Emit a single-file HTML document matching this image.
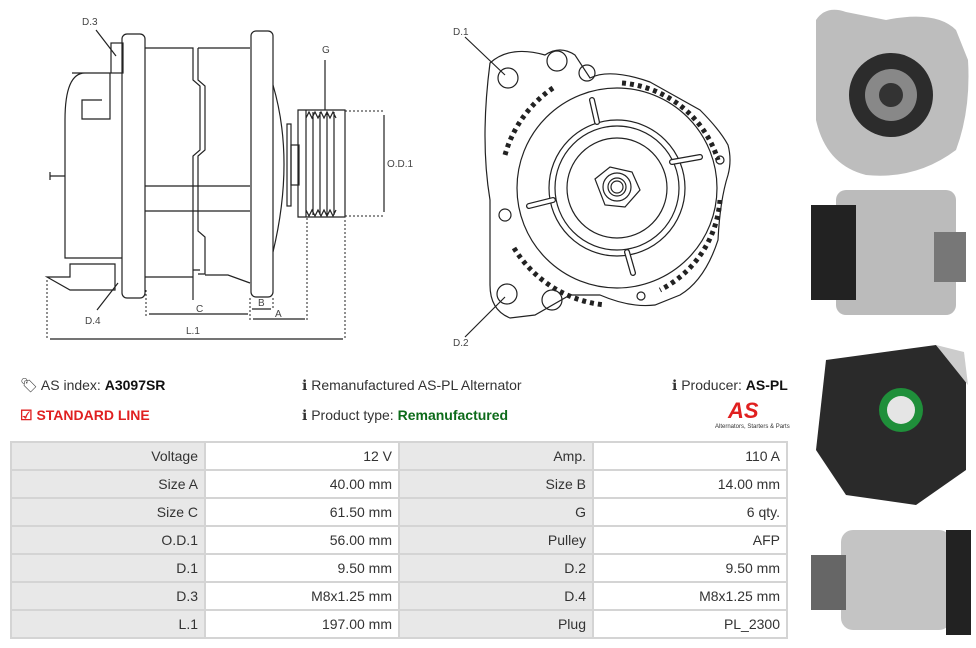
<!DOCTYPE html>
<html><head><meta charset="utf-8"><style>
body{margin:0;width:976px;height:648px;background:#fff;font-family:"Liberation Sans",sans-serif;position:relative;overflow:hidden;color:#333}
.t{position:absolute;font-size:14px;white-space:nowrap}
table{position:absolute;left:10px;top:441px;border-collapse:collapse;font-size:14px;color:#333;table-layout:fixed;width:778px}
tr{height:28px}
td{border:2px solid #d4d4d4;padding:0 6px;text-align:right;box-sizing:border-box}
td.l{background:#e8e8e8}
</style></head><body>
<svg width="976" height="360" style="position:absolute;left:0;top:0" fill="none" stroke="#222" stroke-width="1.2" font-family="Liberation Sans" font-size="10">
<path d="M72 73 H110 V119 H82 V100 H102 M82 119 H110 M65 120 V258 Q70 258 75 258 H122 M65 120 Q65 73 85 73"/>
<rect x="111" y="43" width="12" height="30"/>
<rect x="122" y="34" width="23" height="264" rx="5"/>
<path d="M145 48 H193 V80 L200 86 V150 L193 156 V300 M198 48 H250 M145 186 H250 M145 211 H250 M198 48 V80 L205 86 V150 L198 156 V231 L205 237 V274 H198 M145 277 H193 V270 H200 M205 275 H228 L250 283"/>
<rect x="251" y="31" width="22" height="266" rx="5"/>
<path d="M273 85 Q295 160 273 252"/>
<rect x="287" y="124" width="4" height="82"/><rect x="291" y="145" width="8" height="40"/>
<path d="M298 110 H345 V217 H298 Z M306 110 V217 M313 112 V215 M320 112 V215 M327 112 V215 M334 112 V215 M306 118 l3 -6 3 6 3 -6 3 6 3 -6 3 6 3 -6 3 6 3 -6 3 6 M306 210 l3 6 3 -6 3 6 3 -6 3 6 3 -6 3 6 3 -6 3 6 3 -6"/>
<path d="M50 176 H65 M50 172 V180 M47 277 H70 L70 264 H115 V290 H70 Z"/>
<g stroke-dasharray="2 2" stroke-width="1"><path d="M345 111 H385 M345 216 H385 M47 280 V338 M146 290 V318 M250 298 V320 M273 298 V310 M307 218 V322 M345 220 V338"/></g>
<path d="M384 115 V212 M149 314 H248 M252 309 H271 M253 319 H305 M50 339 H343"/>
<path d="M325 60 V110"/>
<path d="M96 30 L116 56 M97 310 L118 283"/>
<path d="M490 63 Q510 45 545 55 Q560 45 575 55 L590 78 Q610 68 650 82 L700 110 Q720 130 728 145 Q732 160 728 175 Q720 200 718 240 Q705 280 680 295 L655 305 Q630 308 600 295 H570 L535 315 L510 318 Q490 310 490 285 L490 200 Q480 140 490 63Z"/>
<circle cx="508" cy="78" r="10"/><circle cx="507" cy="294" r="10"/><circle cx="557" cy="61" r="10"/><circle cx="552" cy="300" r="10"/><circle cx="587" cy="73" r="8"/><circle cx="505" cy="215" r="6"/><circle cx="720" cy="160" r="4"/><circle cx="641" cy="296" r="4"/>
<circle cx="617" cy="188" r="100"/><circle cx="617" cy="188" r="68"/><circle cx="617" cy="188" r="62"/><circle cx="617" cy="188" r="50"/>
<path d="M595 179 L610 167 L632 172 L640 190 L625 207 L605 205 Z"/><circle cx="617" cy="187" r="14"/><circle cx="617" cy="187" r="9"/><circle cx="617" cy="187" r="6"/>
<g stroke-width="6" stroke-linecap="round" stroke="#222"><path d="M592 100 L597 122 M672 162 L700 157 M529 206 L553 200 M627 252 L633 273"/></g>
<g stroke-width="3.5" stroke="#fff" stroke-linecap="round"><path d="M592 100 L597 122 M672 162 L700 157 M529 206 L553 200 M627 252 L633 273"/></g>
<g stroke-dasharray="4 4" stroke-width="5"><path d="M553 88 A120 120 0 0 0 505 155 M514 248 A120 120 0 0 0 605 305 M622 83 A110 110 0 0 1 718 160 M720 200 A110 110 0 0 1 660 290"/></g>
<path d="M465 37 L505 75 M465 337 L505 297"/>
</svg>
<svg width="976" height="360" style="position:absolute;left:0;top:0" font-family="Liberation Sans" font-size="10" fill="#444">
<text x="82" y="25">D.3</text><text x="322" y="53">G</text><text x="387" y="167">O.D.1</text><text x="196" y="312">C</text><text x="258" y="306">B</text><text x="275" y="317">A</text><text x="186" y="334">L.1</text><text x="85" y="324">D.4</text><text x="453" y="35">D.1</text><text x="453" y="346">D.2</text>
</svg>
<svg width="170" height="645" style="position:absolute;left:806px;top:0">
<path d="M10 20 Q20 5 40 12 L80 20 Q130 10 150 30 L162 60 Q165 110 150 150 Q110 180 60 175 Q20 165 10 120 Z" fill="#bdbdbd"/>
<circle cx="85" cy="95" r="42" fill="#2c2c2c"/><circle cx="85" cy="95" r="26" fill="#888"/><circle cx="85" cy="95" r="12" fill="#333"/>
<rect x="30" y="190" width="120" height="125" rx="10" fill="#bbb"/><rect x="5" y="205" width="45" height="95" fill="#222"/><rect x="128" y="232" width="32" height="50" fill="#777"/>
<path d="M20 360 L130 345 L160 380 L160 470 L110 505 L40 495 L10 450 Z" fill="#2a2a2a"/><circle cx="95" cy="410" r="22" fill="#1f8f3a"/><circle cx="95" cy="410" r="14" fill="#e5e5e5"/><path d="M130 345 L158 352 L162 385 Z" fill="#ccc"/>
<rect x="35" y="530" width="110" height="100" rx="12" fill="#c4c4c4"/><rect x="5" y="555" width="35" height="55" fill="#666"/><rect x="140" y="530" width="25" height="105" fill="#222"/>
</svg>
<div class="t" style="left:20px;top:377px">🏷&#xFE0E; AS index: <b style="color:#111">A3097SR</b></div>
<div class="t" style="left:20px;top:407px;color:#e02020;font-weight:bold">☑ STANDARD LINE</div>
<div class="t" style="left:302px;top:377px">ℹ Remanufactured AS-PL Alternator</div>
<div class="t" style="left:302px;top:407px">ℹ Product type: <b style="color:#0d6b1a">Remanufactured</b></div>
<div class="t" style="left:672px;top:377px">ℹ Producer: <b style="color:#111">AS-PL</b></div>
<div class="t" style="left:728px;top:398px;color:#e02020;font-weight:bold;font-style:italic;font-size:22px">AS</div>
<div class="t" style="left:715px;top:424px;font-size:6px">Alternators, Starters &amp; Parts</div>
<table>
<tr><td class="l">Voltage</td><td>12 V</td><td class="l">Amp.</td><td>110 A</td></tr>
<tr><td class="l">Size A</td><td>40.00 mm</td><td class="l">Size B</td><td>14.00 mm</td></tr>
<tr><td class="l">Size C</td><td>61.50 mm</td><td class="l">G</td><td>6 qty.</td></tr>
<tr><td class="l">O.D.1</td><td>56.00 mm</td><td class="l">Pulley</td><td>AFP</td></tr>
<tr><td class="l">D.1</td><td>9.50 mm</td><td class="l">D.2</td><td>9.50 mm</td></tr>
<tr><td class="l">D.3</td><td>M8x1.25 mm</td><td class="l">D.4</td><td>M8x1.25 mm</td></tr>
<tr><td class="l">L.1</td><td>197.00 mm</td><td class="l">Plug</td><td>PL_2300</td></tr>
</table>
</body></html>
